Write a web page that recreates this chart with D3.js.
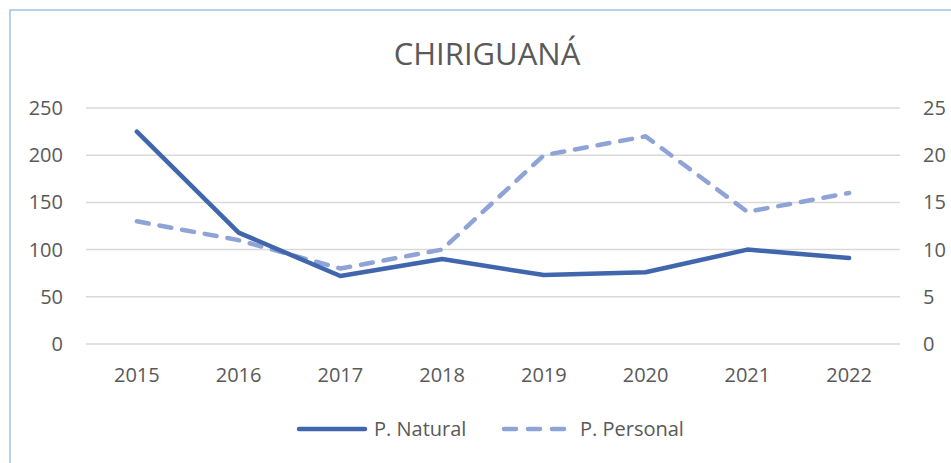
<!DOCTYPE html>
<html>
<head>
<meta charset="utf-8">
<script src="https://cdn.jsdelivr.net/npm/d3@7"></script>
<style>
  body { margin: 0; background: #fff; }
  svg text { font-family: "Open Sans", "Segoe UI", sans-serif; fill: #595959; }
</style>
</head>
<body>
<svg id="chart" width="951" height="463"></svg>
<script>
var years = ["2015", "2016", "2017", "2018", "2019", "2020", "2021", "2022"];
var natural = [225, 118, 72, 90, 73, 76, 100, 91];
var personal = [13, 11, 8, 10, 20, 22, 14, 16];
var leftTicks = [0, 50, 100, 150, 200, 250];
var rightTicks = [0, 5, 10, 15, 20, 25];

var svg = d3.select("#chart"),
    margin = {left: 86, right: 51, top: 108, bottom: 119},
    w = 951 - margin.left - margin.right,
    h = 463 - margin.top - margin.bottom;

// chart border
svg.append("rect")
  .attr("x", 10).attr("y", 10).attr("width", 960).attr("height", 470)
  .attr("fill", "none").attr("stroke", "#9DC3E6").attr("stroke-width", 1.5);

svg.append("text")
  .attr("x", 487).attr("y", 65)
  .attr("text-anchor", "middle")
  .style("font-size", "31px")
  .text("CHIRIGUANÁ");

var g = svg.append("g").attr("transform", "translate(" + margin.left + "," + margin.top + ")");

var x = d3.scaleBand().domain(years).range([0, w]);
var yL = d3.scaleLinear().domain([0, 250]).range([h, 0]);
var yR = d3.scaleLinear().domain([0, 25]).range([h, 0]);

// gridlines
g.selectAll("line.grid").data(leftTicks).enter().append("line")
  .attr("class", "grid")
  .attr("x1", 0).attr("x2", w)
  .attr("y1", function(d) { return yL(d); })
  .attr("y2", function(d) { return yL(d); })
  .attr("stroke", "#d9d9d9").attr("stroke-width", 1.5);

var yAxisL = g.append("g").call(d3.axisLeft(yL).tickValues(leftTicks).tickSize(0).tickPadding(23));
var yAxisR = g.append("g").attr("transform", "translate(" + w + ",0)")
  .call(d3.axisRight(yR).tickValues(rightTicks).tickSize(0).tickPadding(23));
var xAxis = g.append("g").attr("transform", "translate(0," + h + ")")
  .call(d3.axisBottom(x).tickSize(0).tickPadding(24));

[yAxisL, yAxisR, xAxis].forEach(function(a) {
  a.select(".domain").remove();
  a.selectAll("text").style("font-size", "20px").attr("fill", "#595959");
});

var lineL = d3.line()
  .x(function(d, i) { return x(years[i]) + x.bandwidth() / 2; })
  .y(function(d) { return yL(d); });
var lineR = d3.line()
  .x(function(d, i) { return x(years[i]) + x.bandwidth() / 2; })
  .y(function(d) { return yR(d); });

g.append("path").datum(personal)
  .attr("d", lineR)
  .attr("fill", "none")
  .attr("stroke", "#8FA4D6").attr("stroke-width", 4.5)
  .attr("stroke-dasharray", "12,11")
  .attr("stroke-linecap", "round").attr("stroke-linejoin", "round");

g.append("path").datum(natural)
  .attr("d", lineL)
  .attr("fill", "none")
  .attr("stroke", "#4066AE").attr("stroke-width", 4.5)
  .attr("stroke-linecap", "round").attr("stroke-linejoin", "round");

// legend
var leg = svg.append("g").attr("transform", "translate(0,429)");
leg.append("line").attr("x1", 299).attr("x2", 365).attr("y1", 0).attr("y2", 0)
  .attr("stroke", "#4066AE").attr("stroke-width", 4.5).attr("stroke-linecap", "round");
leg.append("text").attr("x", 374).attr("y", 7).style("font-size", "20px").text("P. Natural");
leg.append("line").attr("x1", 504).attr("x2", 564).attr("y1", 0).attr("y2", 0)
  .attr("stroke", "#8FA4D6").attr("stroke-width", 4.5)
  .attr("stroke-dasharray", "12,12").attr("stroke-linecap", "round");
leg.append("text").attr("x", 580).attr("y", 7).style("font-size", "20px").text("P. Personal");
</script>
</body>
</html>
